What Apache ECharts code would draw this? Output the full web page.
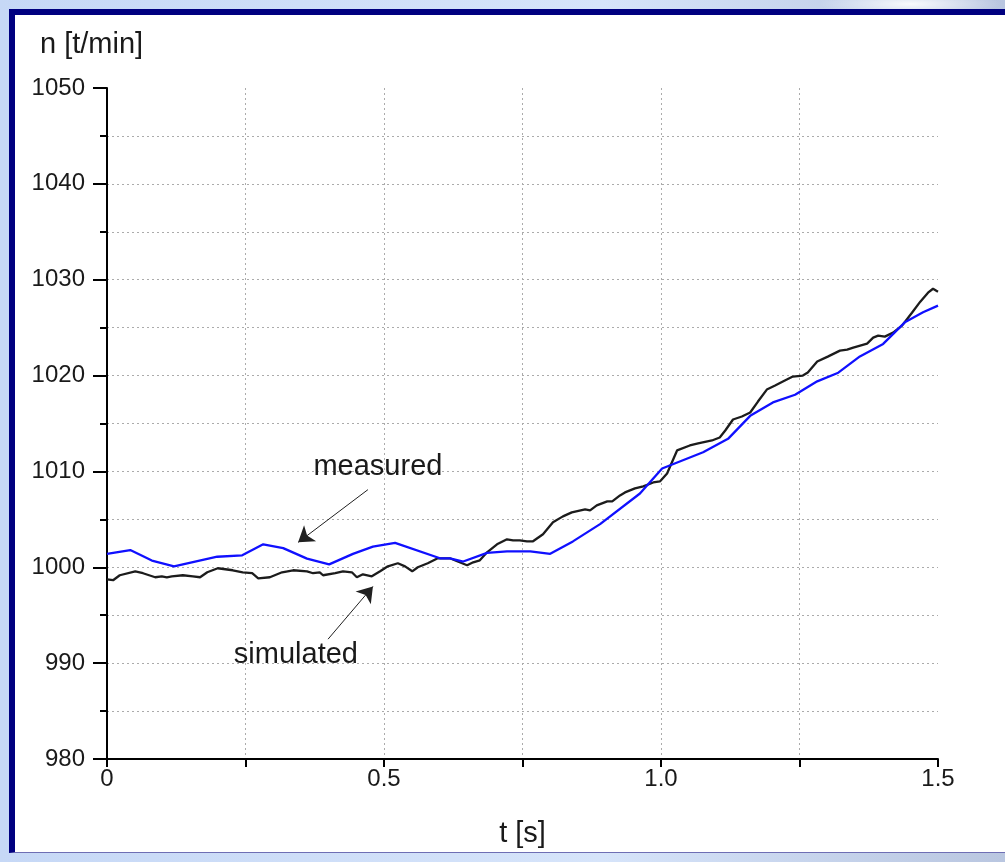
<!DOCTYPE html>
<html>
<head>
<meta charset="utf-8">
<script src="https://cdn.jsdelivr.net/npm/echarts@6/dist/echarts.min.js"></script>
<style>
  html, body { margin: 0; padding: 0; width: 1005px; height: 862px; overflow: hidden; }
  body {
    background:
      radial-gradient(ellipse 90px 14px at 910px 4px, rgba(255,255,255,0.9), rgba(255,255,255,0) 100%),
      linear-gradient(90deg, #c6d8f6 0%, #d6e4fa 60%, #b9c6e0 100%);
  }
  #frame {
    position: absolute; left: 9px; top: 9px; width: 1000px; height: 837px;
    background: #ffffff;
    border-left: 6px solid #000080; border-top: 6px solid #000080;
    border-bottom: 1px solid #6e6eb4;
  }
  #chart { position: absolute; left: 0; top: 0; width: 1005px; height: 862px; }
</style>
</head>
<body>
<div id="frame"></div>
<div id="chart"></div>
<script>
// Speed n [t/min] over time t [s]
const simT = [0, 0.011, 0.023, 0.051, 0.065, 0.087, 0.099, 0.108, 0.117, 0.137,
  0.155, 0.168, 0.181, 0.200, 0.227, 0.245, 0.262, 0.273, 0.294, 0.316,
  0.336, 0.361, 0.372, 0.384, 0.390, 0.412, 0.426, 0.442, 0.451, 0.462,
  0.478, 0.493, 0.507, 0.525, 0.538, 0.551, 0.561, 0.579, 0.597, 0.619,
  0.632, 0.650, 0.661, 0.673, 0.686, 0.704, 0.722, 0.733, 0.745, 0.758,
  0.769, 0.787, 0.805, 0.823, 0.839, 0.863, 0.872, 0.884, 0.903, 0.912,
  0.926, 0.935, 0.953, 0.968, 0.986, 0.998, 1.011, 1.029, 1.052, 1.067,
  1.092, 1.106, 1.116, 1.130, 1.146, 1.161, 1.175, 1.191, 1.206, 1.220,
  1.238, 1.256, 1.265, 1.282, 1.301, 1.323, 1.336, 1.347, 1.372, 1.383,
  1.392, 1.404, 1.419, 1.435, 1.453, 1.468, 1.482, 1.491, 1.500];
const simN = [998.75, 998.65, 999.17, 999.58, 999.38, 998.96, 999.06, 998.96, 999.06, 999.17,
  999.06, 998.96, 999.48, 999.90, 999.69, 999.48, 999.38, 998.85, 998.96, 999.48,
  999.69, 999.58, 999.38, 999.48, 999.17, 999.38, 999.58, 999.48, 998.96, 999.27,
  999.06, 999.58, 1000.10, 1000.42, 1000.10, 999.58, 1000.00, 1000.42, 1000.94, 1000.94,
  1000.63, 1000.21, 1000.52, 1000.73, 1001.56, 1002.40, 1002.92, 1002.81, 1002.81, 1002.71,
  1002.71, 1003.44, 1004.69, 1005.31, 1005.73, 1006.04, 1005.94, 1006.46, 1006.88, 1006.88,
  1007.50, 1007.81, 1008.23, 1008.44, 1008.85, 1008.96, 1009.79, 1012.19, 1012.71, 1012.92,
  1013.23, 1013.54, 1014.27, 1015.42, 1015.73, 1016.15, 1017.29, 1018.54, 1018.96, 1019.38,
  1019.90, 1020.00, 1020.31, 1021.46, 1021.98, 1022.60, 1022.71, 1022.92, 1023.33, 1023.96,
  1024.17, 1024.06, 1024.48, 1025.21, 1026.56, 1027.71, 1028.65, 1029.06, 1028.75];

const measT = [0, 0.042, 0.081, 0.121, 0.199, 0.244, 0.282, 0.318, 0.361, 0.401,
  0.444, 0.480, 0.520, 0.601, 0.619, 0.643, 0.686, 0.722, 0.764, 0.800,
  0.841, 0.890, 0.962, 1.002, 1.076, 1.121, 1.161, 1.202, 1.242, 1.282,
  1.320, 1.359, 1.401, 1.441, 1.473, 1.500];
const measN = [1001.4, 1001.8, 1000.7, 1000.1, 1001.1, 1001.25, 1002.4, 1002.0, 1000.9, 1000.3,
  1001.4, 1002.15, 1002.55, 1000.94, 1000.94, 1000.6, 1001.5, 1001.65, 1001.65, 1001.4,
  1002.7, 1004.5, 1007.7, 1010.3, 1012.0, 1013.4, 1015.8, 1017.2, 1018.0, 1019.4,
  1020.3, 1022.0, 1023.3, 1025.6, 1026.6, 1027.3];

const xTickLabels = ['0', '0.5', '1.0', '1.5'];
const yAxisTitle = 'n [t/min]';
const xAxisTitle = 't [s]';
const measuredLabel = 'measured';
const simulatedLabel = 'simulated';

const FONT = '"Liberation Sans", Arial, sans-serif';
const gridStyle = { color: '#ababab', width: 1, type: [2, 3] };

const zip = (a, b) => a.map((v, i) => [v, b[i]]);

const chart = echarts.init(document.getElementById('chart'), null, { renderer: 'canvas' });

// pointer arrow between two data points, drawn as a mark line
const pointer = (from, to) => ({
  silent: true, symbol: ['none', 'arrow'], symbolSize: 15,
  lineStyle: { color: '#202020', width: 1, type: 'solid' },
  label: { show: false },
  data: [[{ coord: from }, { coord: to }]]
});

// free text anchored at a data point
const note = (text, at) => ({
  silent: true, symbol: 'rect', symbolSize: 1,
  itemStyle: { color: 'transparent' },
  label: { show: true, position: 'inside', formatter: text,
           fontFamily: FONT, fontSize: 29, color: '#1a1a1a' },
  data: [{ coord: at }]
});

const option = {
  animation: false,
  backgroundColor: 'transparent',
  grid: { left: 107, top: 88, width: 831, height: 671 },
  graphic: [{
    type: 'text', left: 40, top: 30,
    style: { text: yAxisTitle, font: '29px ' + FONT, fill: '#1a1a1a' }
  }],
  xAxis: {
    type: 'value', min: 0, max: 1.5, interval: 0.5,
    name: xAxisTitle, nameLocation: 'middle', nameGap: 60,
    nameTextStyle: { fontFamily: FONT, fontSize: 29, color: '#1a1a1a' },
    axisLine: { show: true, onZero: false, lineStyle: { color: '#000', width: 2 } },
    axisTick: { show: true, length: 8, lineStyle: { color: '#000', width: 2 } },
    minorTick: { show: true, splitNumber: 2, length: 8, lineStyle: { color: '#000', width: 2 } },
    axisLabel: {
      margin: 8, fontFamily: FONT, fontSize: 24, color: '#1a1a1a',
      formatter: v => xTickLabels[Math.round(v / 0.5)]
    },
    splitLine: { show: true, showMinLine: false, showMaxLine: false, lineStyle: gridStyle },
    minorSplitLine: { show: true, lineStyle: gridStyle }
  },
  yAxis: {
    type: 'value', min: 980, max: 1050, interval: 10,
    axisLine: { show: true, onZero: false, lineStyle: { color: '#000', width: 2 } },
    axisTick: { show: true, length: 14, lineStyle: { color: '#000', width: 2 } },
    minorTick: { show: true, splitNumber: 2, length: 7, lineStyle: { color: '#000', width: 2 } },
    axisLabel: { margin: 22, fontFamily: FONT, fontSize: 24, color: '#1a1a1a',
                 formatter: v => String(v) },
    splitLine: { show: true, showMinLine: false, showMaxLine: false, lineStyle: gridStyle },
    minorSplitLine: { show: true, lineStyle: gridStyle }
  },
  series: [
    {
      name: simulatedLabel, type: 'line', data: zip(simT, simN),
      showSymbol: false, symbol: 'none', smooth: false,
      lineStyle: { color: '#1c1c1c', width: 2.3 },
      markLine: pointer([0.399, 992.5], [0.480, 998.0]),
      markPoint: note(simulatedLabel, [0.341, 990.9])
    },
    {
      name: measuredLabel, type: 'line', data: zip(measT, measN),
      showSymbol: false, symbol: 'none', smooth: false,
      lineStyle: { color: '#1010ff', width: 2.3 },
      markLine: pointer([0.471, 1008.1], [0.345, 1002.6]),
      markPoint: note(measuredLabel, [0.489, 1010.5])
    }
  ]
};

chart.setOption(option);
</script>
</body>
</html>
